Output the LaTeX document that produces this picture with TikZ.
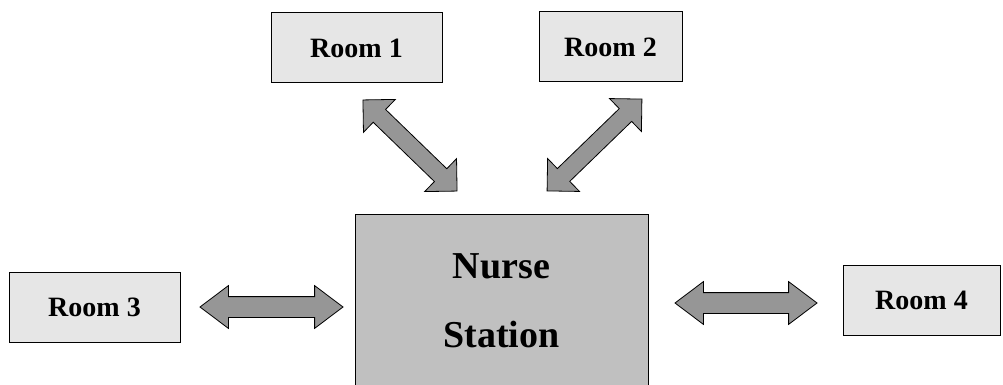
\documentclass[tikz,border=0pt]{standalone}
\usepackage{fontspec}
\setmainfont{Liberation Serif}
\usetikzlibrary{shapes.arrows}
\definecolor{roomgray}{RGB}{230,230,230}
\definecolor{stationgray}{RGB}{192,192,192}
\definecolor{arrowgray}{RGB}{150,150,150}

\begin{document}
\begin{tikzpicture}[
  x=1pt, y=-1pt,
  room/.style={rectangle, draw=black, line width=1pt, fill=roomgray, minimum height=70pt, inner sep=0pt, font=\fontsize{28}{30}\selectfont\bfseries},
  station/.style={rectangle, draw=black, line width=1pt, fill=stationgray, minimum width=293pt, minimum height=174pt, align=center, font=\fontsize{38}{69}\selectfont\bfseries},
  fatarrow/.style={double arrow, draw=black, fill=arrowgray, line width=0.8pt, inner sep=0pt, text depth=0pt, sloped},
  diagarrow/.style={fatarrow, text height=17pt, double arrow head extend=14pt, double arrow tip angle=90},
  flatarrow/.style={fatarrow, text height=20pt, double arrow head extend=11pt, double arrow tip angle=74}
]
\useasboundingbox (0,0) rectangle (1003,385);

% Nurse station and rooms
\node[station] (ns) at (501.5,301) {Nurse\\Station};
\node[room, minimum width=171pt] (r1) at (356.5,48) {Room 1};
\node[room, minimum width=143pt] (r2) at (610.5,47) {Room 2};
\node[room, minimum width=171pt] (r3) at (94.5,307) {Room 3};
\node[room, minimum width=157pt] (r4) at (921.5,300) {Room 4};

% Arrow ends
\coordinate (a1s) at (363,100);
\coordinate (a1e) at (457,191);
\coordinate (a2s) at (642,99);
\coordinate (a2e) at (547,191);
\coordinate (a3s) at (200,307);
\coordinate (a3e) at (343,307);
\coordinate (a4s) at (675,303);
\coordinate (a4e) at (817,303);

\path (a1s) -- (a1e) node[diagarrow, midway, minimum height=131pt] (a1) {};
\path (a2s) -- (a2e) node[diagarrow, midway, minimum height=132pt] (a2) {};
\path (a3s) -- (a3e) node[flatarrow, midway, minimum height=143pt] (a3) {};
\path (a4s) -- (a4e) node[flatarrow, midway, minimum height=142pt] (a4) {};
\end{tikzpicture}
\end{document}
